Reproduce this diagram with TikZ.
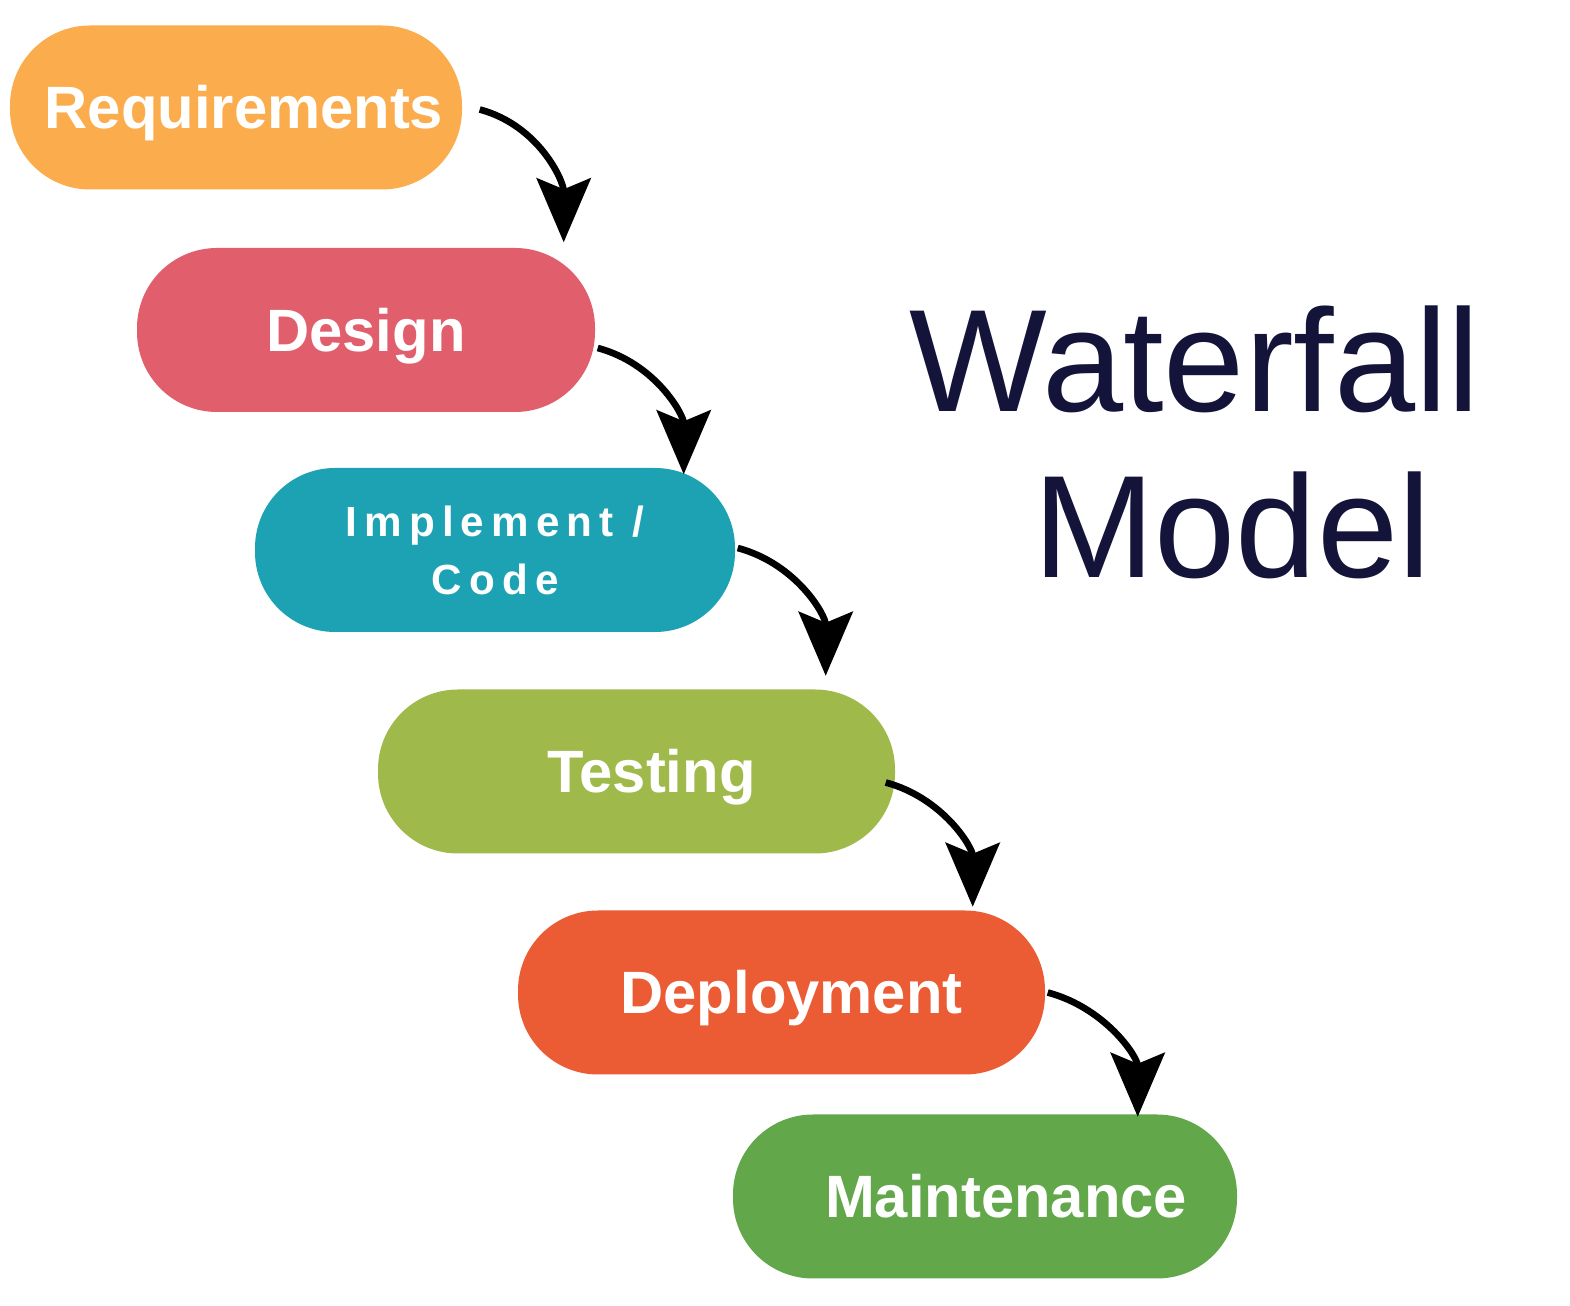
\documentclass[tikz,border=0pt]{standalone}
\usepackage{fontspec}
\setmainfont{Liberation Sans}
\usepackage{tikz}
\usetikzlibrary{arrows.meta,positioning,calc}
\definecolor{reqorange}{HTML}{FBAD4E}
\definecolor{desred}{HTML}{E15F6C}
\definecolor{impteal}{HTML}{1CA2B3}
\definecolor{testolive}{HTML}{9FBA4B}
\definecolor{deporange}{HTML}{EB5B34}
\definecolor{maingreen}{HTML}{62A84A}
\definecolor{titlenavy}{HTML}{14143A}
\tikzset{
    phase/.style={rectangle, rounded corners=0.8cm, draw=none, minimum height=1.64cm,
      text=white, inner sep=0pt, font=\fontsize{17}{20}\selectfont\bfseries},
    oneline/.style={text height=12.2pt, text depth=0pt},
    flow/.style={draw=black, line width=1.9pt,
      -{Stealth[length=6.4mm, width=5.4mm, inset=1.1mm]}},
    title/.style={text=titlenavy, inner sep=0pt, font=\fontsize{41.5}{48}\selectfont},
}

\begin{document}
\begin{tikzpicture}

\useasboundingbox[fill=white] (0,0) rectangle (15.7,-13.06);

% Phases
\node[phase, oneline, fill=reqorange, minimum width=4.52cm] (req) at (2.36,-1.075) {\hspace*{0.16cm}Requirements};
\node[phase, oneline, fill=desred, minimum width=4.58cm] (des) at (3.66,-3.30) {Design};
\node[phase, fill=impteal, minimum width=4.80cm, align=center,
      font=\fontsize{12}{16.5}\selectfont\bfseries\addfontfeatures{LetterSpace=17}] (imp) at (4.95,-5.50) {Implement /\\Code};
\node[phase, oneline, fill=testolive, minimum width=5.17cm] (tes) at (6.365,-7.715) {\hspace*{0.30cm}Testing};
\node[phase, oneline, fill=deporange, minimum width=5.27cm] (dep) at (7.815,-9.925) {\hspace*{0.20cm}Deployment};
\node[phase, oneline, fill=maingreen, minimum width=5.04cm] (mai) at (9.85,-11.965) {\hspace*{0.42cm}Maintenance};

% Title
\node[title, anchor=base] (wf) at (11.95,-4.12) {Waterfall};
\node[title, anchor=base] (mdl) at (12.32,-5.78) {Model};

% Arrows between phases
\draw[flow] ([xshift=0.17cm,yshift=-0.02cm]req.east) to[out=-15, in=90] ([xshift=-0.32cm,yshift=0.05cm]des.north east);
\draw[flow] ([xshift=0.02cm,yshift=-0.18cm]des.east) to[out=-15, in=90] ([xshift=-0.52cm,yshift=-0.07cm]imp.north east);
\draw[flow] ([xshift=0.02cm,yshift=0.02cm]imp.east) to[out=-15, in=90] ([xshift=-0.70cm,yshift=0.13cm]tes.north east);
\draw[flow] ([xshift=-0.10cm,yshift=-0.11cm]tes.east) to[out=-15, in=90] ([xshift=-0.73cm,yshift=0.03cm]dep.north east);
\draw[flow] ([xshift=0.02cm]dep.east) to[out=-15, in=90] ([xshift=-1.00cm,yshift=-0.03cm]mai.north east);

\end{tikzpicture}
\end{document}
